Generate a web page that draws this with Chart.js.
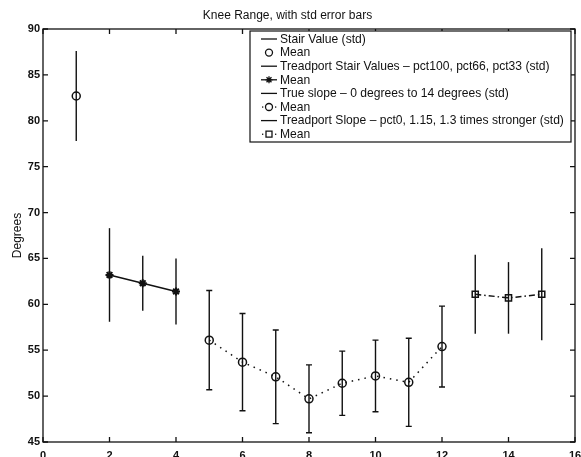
<!DOCTYPE html>
<html>
<head>
<meta charset="utf-8">
<script src="https://cdn.jsdelivr.net/npm/chart.js@4.4.0/dist/chart.umd.min.js"></script>
<style>
  html, body { margin: 0; padding: 0; background: #fff; }
  #wrap { width: 581px; height: 457px; }
</style>
</head>
<body>
<div id="wrap"><canvas id="grafico"></canvas></div>
<script>
// data
const stairX = [1];
const stairMean = [82.7];
const stairStd = [4.9];

const tpStairX = [2, 3, 4];
const tpStairMean = [63.2, 62.3, 61.4];
const tpStairStd = [5.1, 3.0, 3.6];

const slopeX = [5, 6, 7, 8, 9, 10, 11, 12];
const slopeMean = [56.1, 53.7, 52.1, 49.7, 51.4, 52.2, 51.5, 55.4];
const slopeStd = [5.4, 5.3, 5.1, 3.7, 3.5, 3.9, 4.8, 4.4];

const tpSlopeX = [13, 14, 15];
const tpSlopeMean = [61.1, 60.7, 61.1];
const tpSlopeStd = [4.3, 3.9, 5.0];

const xTicks = [0, 2, 4, 6, 8, 10, 12, 14, 16];
const yTicks = [45, 50, 55, 60, 65, 70, 75, 80, 85, 90];

const legendTexts = [
    "Stair Value (std)",
    "Mean",
    "Treadport Stair Values \u2013 pct100, pct66, pct33 (std)",
    "Mean",
    "True slope \u2013 0 degrees to 14 degrees (std)",
    "Mean",
    "Treadport Slope \u2013 pct0, 1.15, 1.3 times stronger (std)",
    "Mean"
];

const ink = "#111";
const fonte = "'Liberation Sans', Arial, sans-serif";

function pts(xs, ys) {
    return xs.map((x, i) => ({ x: x, y: ys[i] }));
}

const erros = [
    { xs: stairX, m: stairMean, s: stairStd, cap: 0 },
    { xs: tpStairX, m: tpStairMean, s: tpStairStd, cap: 0 },
    { xs: slopeX, m: slopeMean, s: slopeStd, cap: 3 },
    { xs: tpSlopeX, m: tpSlopeMean, s: tpSlopeStd, cap: 0 }
];

// error bars, under the markers
const barrasErro = {
    id: "barrasErro",
    beforeDatasetsDraw(chart) {
        const ctx = chart.ctx;
        const sx = chart.scales.x, sy = chart.scales.y;
        ctx.save();
        ctx.strokeStyle = ink;
        ctx.lineWidth = 1.4;
        erros.forEach(e => {
            e.xs.forEach((xv, i) => {
                const px = sx.getPixelForValue(xv);
                const top = sy.getPixelForValue(e.m[i] + e.s[i]);
                const bot = sy.getPixelForValue(e.m[i] - e.s[i]);
                ctx.beginPath();
                ctx.moveTo(px, top);
                ctx.lineTo(px, bot);
                if (e.cap > 0) {
                    ctx.moveTo(px - e.cap, top);
                    ctx.lineTo(px + e.cap, top);
                    ctx.moveTo(px - e.cap, bot);
                    ctx.lineTo(px + e.cap, bot);
                }
                ctx.stroke();
            });
        });
        ctx.restore();
    }
};

// box with inward ticks on all four sides, plus the legend
const caixa = {
    id: "caixa",
    afterDraw(chart) {
        const ctx = chart.ctx;
        const a = chart.chartArea;
        const sx = chart.scales.x, sy = chart.scales.y;
        const t = 5;
        ctx.save();
        ctx.strokeStyle = ink;
        ctx.lineWidth = 1.3;
        ctx.strokeRect(a.left, a.top, a.right - a.left, a.bottom - a.top);
        ctx.beginPath();
        xTicks.forEach(v => {
            const px = sx.getPixelForValue(v);
            ctx.moveTo(px, a.bottom); ctx.lineTo(px, a.bottom - t);
            ctx.moveTo(px, a.top); ctx.lineTo(px, a.top + t);
        });
        yTicks.forEach(v => {
            const py = sy.getPixelForValue(v);
            ctx.moveTo(a.left, py); ctx.lineTo(a.left + t, py);
            ctx.moveTo(a.right, py); ctx.lineTo(a.right - t, py);
        });
        ctx.stroke();

        // legend
        const lx = 250, ly = 31, lw = 321, lh = 111;
        ctx.fillStyle = "#fff";
        ctx.fillRect(lx, ly, lw, lh);
        ctx.lineWidth = 1.2;
        ctx.strokeRect(lx, ly, lw, lh);

        const rowH = 13.6;
        const x0 = 261, x1 = 277, xm = 269;
        ctx.font = "12.1px " + fonte;
        ctx.textBaseline = "middle";
        ctx.fillStyle = ink;
        legendTexts.forEach((txt, i) => {
            const cy = ly + 8 + i * rowH;
            ctx.lineWidth = 1.3;
            ctx.setLineDash([]);
            if (i % 2 === 0) {
                ctx.beginPath(); ctx.moveTo(x0, cy); ctx.lineTo(x1, cy); ctx.stroke();
            } else if (i === 1) {
                ctx.beginPath(); ctx.arc(xm, cy, 3.5, 0, Math.PI * 2); ctx.stroke();
            } else if (i === 3) {
                ctx.beginPath(); ctx.moveTo(x0, cy); ctx.lineTo(x1, cy); ctx.stroke();
                ctx.beginPath();
                for (let k = 0; k < 4; k++) {
                    const ang = k * Math.PI / 4;
                    ctx.moveTo(xm - 3.5 * Math.cos(ang), cy - 3.5 * Math.sin(ang));
                    ctx.lineTo(xm + 3.5 * Math.cos(ang), cy + 3.5 * Math.sin(ang));
                }
                ctx.stroke();
            } else {
                ctx.fillRect(x0 + 1, cy - 0.6, 1.3, 1.3);
                ctx.fillRect(x1 - 2, cy - 0.6, 1.3, 1.3);
                ctx.beginPath();
                if (i === 5) ctx.arc(xm, cy, 3.5, 0, Math.PI * 2);
                else ctx.rect(xm - 3, cy - 3, 6, 6);
                ctx.stroke();
            }
            ctx.fillText(txt, 280, cy + 0.5);
        });
        ctx.restore();
    }
};

const graf = document.getElementById("grafico");

new Chart(graf, {
    type: "line",
    data: {
        datasets: [
            {
                label: "Stair Value",
                data: pts(stairX, stairMean),
                showLine: false,
                pointStyle: "circle",
                pointRadius: 4,
                pointBorderWidth: 1.5,
                pointBorderColor: ink,
                pointBackgroundColor: "rgba(0,0,0,0)"
            },
            {
                label: "Treadport Stair",
                data: pts(tpStairX, tpStairMean),
                borderColor: ink,
                borderWidth: 1.5,
                pointStyle: "star",
                pointRadius: 4,
                pointBorderWidth: 2,
                pointBorderColor: ink
            },
            {
                label: "True slope",
                data: pts(slopeX, slopeMean),
                borderColor: ink,
                borderWidth: 1.5,
                borderDash: [1.5, 5],
                pointStyle: "circle",
                pointRadius: 4,
                pointBorderWidth: 1.5,
                pointBorderColor: ink,
                pointBackgroundColor: "rgba(0,0,0,0)"
            },
            {
                label: "Treadport Slope",
                data: pts(tpSlopeX, tpSlopeMean),
                borderColor: ink,
                borderWidth: 1.5,
                borderDash: [6, 3, 1.5, 3],
                pointStyle: "rect",
                pointRadius: 4.3,
                pointBorderWidth: 1.5,
                pointBorderColor: ink,
                pointBackgroundColor: "rgba(0,0,0,0)"
            }
        ]
    },
    options: {
        responsive: true,
        maintainAspectRatio: false,
        animation: false,
        layout: { padding: { left: 0, right: 6, top: 0, bottom: 0 } },
        plugins: {
            legend: { display: false },
            tooltip: { enabled: false },
            title: {
                display: true,
                text: "Knee Range, with std error bars",
                color: ink,
                font: { family: fonte, size: 12, weight: "normal" },
                padding: { top: 8, bottom: 6.6 }
            }
        },
        scales: {
            x: {
                type: "linear",
                min: 0,
                max: 16,
                afterBuildTicks(scale) { scale.ticks = xTicks.map(v => ({ value: v })); },
                afterFit(scale) { scale.height = 15; scale.paddingLeft = 0; scale.paddingRight = 0; },
                grid: { display: false, drawTicks: false, tickLength: 0 },
                border: { display: false },
                ticks: {
                    color: ink,
                    padding: 7,
                    maxRotation: 0,
                    autoSkip: false,
                    font: { family: fonte, size: 11, weight: "bold" }
                }
            },
            y: {
                min: 45,
                max: 90,
                afterBuildTicks(scale) { scale.ticks = yTicks.map(v => ({ value: v })); },
                afterFit(scale) { scale.width = 43; scale.paddingTop = 0; scale.paddingBottom = 0; },
                grid: { display: false, drawTicks: false, tickLength: 0 },
                border: { display: false },
                title: {
                    display: true,
                    text: "Degrees",
                    color: ink,
                    font: { family: fonte, size: 12, weight: "normal" },
                    padding: { top: 10, bottom: 0 }
                },
                ticks: {
                    color: ink,
                    padding: 3,
                    autoSkip: false,
                    font: { family: fonte, size: 11, weight: "bold" }
                }
            }
        }
    },
    plugins: [barrasErro, caixa]
});
</script>
</body>
</html>
